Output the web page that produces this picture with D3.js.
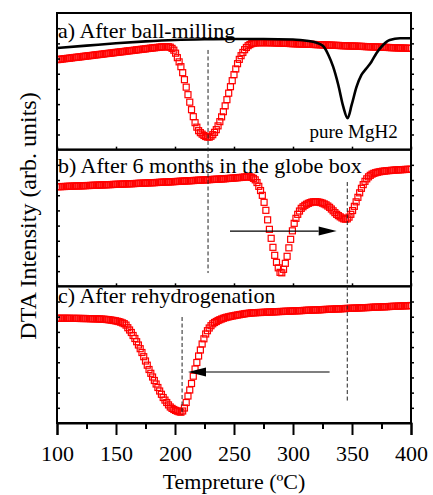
<!DOCTYPE html>
<html>
<head>
<meta charset="utf-8">
<script src="https://cdn.jsdelivr.net/npm/d3@7"></script>
<style>
  body { margin: 0; background: #fff; }
  svg { display: block; font-family: "Liberation Serif", "Times New Roman", serif; }
</style>
</head>
<body>
<div id="chart"></div>
<script>
// temperature grid of the DTA scans (every 1.5 degC)
const temps = d3.range(100, 401, 1.5);

// a) after ball-milling (red squares), arb. units
const ballMilled = [
  90.0, 90.2, 90.4, 90.7, 90.9, 91.1, 91.3, 91.5, 91.7, 92.0,
  92.2, 92.4, 92.6, 92.8, 93.0, 93.3, 93.5, 93.7, 93.9, 94.1,
  94.3, 94.6, 94.8, 95.0, 95.2, 95.4, 95.6, 95.9, 96.1, 96.3,
  96.5, 96.7, 96.9, 97.2, 97.4, 97.6, 97.8, 98.0, 98.2, 98.5,
  98.7, 98.9, 99.1, 99.3, 99.5, 99.8, 100.0, 100.2, 100.4, 100.6,
  100.8, 101.1, 101.3, 101.5, 101.7, 101.9, 102.1, 102.3, 102.5, 102.7,
  102.8, 102.9, 103.0, 102.9, 102.5, 101.3, 99.5, 96.5, 92, 87.8,
  83, 77, 70, 62.5, 55, 47.5, 40, 33, 27, 22.5,
  19, 17, 15.5, 14.2, 13.2, 12.6, 12.5, 13.4, 15, 17.3,
  20, 23.8, 28, 32.8, 38, 43.8, 50, 56.5, 63, 69,
  75, 80.7, 86, 90.3, 94, 97.2, 100, 102.2, 104, 105.1,
  106, 106.5, 106.8, 106.9, 107, 107, 107, 107, 107, 107,
  107, 106.9, 106.9, 106.8, 106.7, 106.6, 106.6, 106.5, 106.4, 106.3,
  106.3, 106.2, 106.1, 106.0, 106.0, 105.9, 105.8, 105.7, 105.7, 105.6,
  105.6, 105.5, 105.4, 105.3, 105.3, 105.2, 105.1, 105.0, 105.0, 104.9,
  104.8, 104.7, 104.7, 104.6, 104.6, 104.5, 104.4, 104.3, 104.3, 104.2,
  104.1, 104.0, 104.0, 103.9, 103.8, 103.7, 103.7, 103.6, 103.6, 103.5,
  103.4, 103.3, 103.3, 103.2, 103.1, 103.0, 103.0, 102.9, 102.8, 102.7,
  102.7, 102.6, 102.6, 102.5, 102.4, 102.3, 102.3, 102.2, 102.1, 102.0,
  102.0, 101.9, 101.8, 101.7, 101.7, 101.6, 101.6, 101.5, 101.4, 101.3,
  101.3
];

// b) after 6 months in the glove box
const gloveBox = [
  99.6, 99.7, 99.7, 99.8, 99.8, 99.9, 100.0, 100.1, 100.1, 100.2,
  100.3, 100.4, 100.4, 100.5, 100.5, 100.6, 100.7, 100.8, 100.8, 100.9,
  101.0, 101.1, 101.1, 101.2, 101.3, 101.4, 101.4, 101.5, 101.6, 101.7,
  101.7, 101.8, 101.9, 102.0, 102.0, 102.1, 102.2, 102.3, 102.3, 102.4,
  102.5, 102.6, 102.6, 102.7, 102.8, 102.9, 103.0, 103.1, 103.1, 103.2,
  103.3, 103.4, 103.5, 103.6, 103.6, 103.7, 103.8, 103.9, 104.0, 104.1,
  104.2, 104.3, 104.3, 104.4, 104.5, 104.6, 104.7, 104.8, 104.9, 105.0,
  105.1, 105.2, 105.3, 105.4, 105.5, 105.6, 105.7, 105.8, 105.9, 106.0,
  106.1, 106.2, 106.3, 106.4, 106.5, 106.6, 106.7, 106.8, 106.9, 107.0,
  107.1, 107.2, 107.3, 107.4, 107.5, 107.6, 107.8, 107.9, 108.0, 108.2,
  108.3, 108.5, 108.6, 108.8, 108.9, 109.1, 109.3, 109.5, 109.6, 109.5,
  109, 108, 106.5, 103.8, 100, 95.8, 91, 84, 76, 66.5,
  57, 48, 39, 31, 24, 18.5, 14, 13.5, 17, 23,
  30, 38.5, 47, 55.5, 63, 68, 72, 75.3, 78, 79.6,
  81, 82.1, 83, 83.7, 84.3, 84.5, 84.6, 84.5, 84.2, 83.8,
  83.2, 82.4, 81.5, 80.3, 79, 77.3, 75.5, 73.7, 72, 70.7,
  69.5, 68.4, 67.5, 67.2, 67.5, 69.2, 72, 75.8, 80, 84.5,
  89, 93.5, 98, 101.7, 105, 107.5, 109.5, 111, 112.2, 113,
  113.6, 114.1, 114.5, 114.8, 115.1, 115.3, 115.5, 115.7, 115.8, 116.0,
  116.1, 116.3, 116.4, 116.5, 116.6, 116.7, 116.8, 116.9, 117.0, 117.0,
  117.1
];

// c) after rehydrogenation
const rehydrided = [
  104.7, 104.7, 104.7, 104.7, 104.7, 104.7, 104.7, 104.7, 104.6, 104.6,
  104.6, 104.6, 104.6, 104.5, 104.5, 104.5, 104.5, 104.4, 104.4, 104.3,
  104.3, 104.2, 104.2, 104.1, 104.0, 103.9, 103.8, 103.7, 103.5, 103.3,
  103.1, 102.8, 102.5, 102.2, 101.8, 101.4, 100.8, 100.1, 99.3, 97.9,
  95.3, 93.0, 90.5, 87.5, 84.5, 81.3, 78, 74.3, 70.5, 66.3,
  62, 57.8, 53.5, 49.7, 46, 42.5, 39, 35.5, 32, 28.7,
  25.5, 22.9, 20.5, 18.1, 16, 14.6, 13.5, 12.6, 11.8, 11.2,
  10.8, 12, 15, 20.5, 27, 33, 39.5, 46.8, 54, 60.5,
  67, 73, 79, 84.2, 89, 92.3, 95, 97.3, 99.2, 100.5,
  101.5, 102.5, 103.3, 104.0, 104.7, 105.3, 105.8, 106.2, 106.6, 107.0,
  107.3, 107.7, 108.0, 108.3, 108.6, 108.9, 109.2, 109.5, 109.7, 109.9,
  110.1, 110.2, 110.3, 110.4, 110.5, 110.5, 110.6, 110.7, 110.8, 110.9,
  111.0, 111.0, 111.1, 111.2, 111.3, 111.4, 111.5, 111.5, 111.6, 111.7,
  111.8, 111.8, 111.9, 112.0, 112.1, 112.2, 112.3, 112.3, 112.4, 112.5,
  112.6, 112.7, 112.8, 112.8, 112.9, 113.0, 113.1, 113.1, 113.2, 113.3,
  113.4, 113.5, 113.6, 113.6, 113.7, 113.8, 113.9, 114.0, 114.1, 114.1,
  114.2, 114.3, 114.4, 114.5, 114.6, 114.6, 114.7, 114.8, 114.9, 114.9,
  115.0, 115.1, 115.2, 115.3, 115.4, 115.4, 115.5, 115.6, 115.7, 115.8,
  115.9, 115.9, 116.0, 116.1, 116.2, 116.2, 116.3, 116.4, 116.5, 116.6,
  116.7, 116.7, 116.8, 116.9, 117.0, 117.1, 117.2, 117.2, 117.3, 117.4,
  117.5
];

// pure MgH2 reference (black line in panel a)
const pureT = [100, 125, 150, 175, 200, 225, 250, 275, 300, 306, 317, 322, 326, 330, 334, 338.4,
  342.6, 346.3, 349.7, 353.9, 358, 362.3, 366.5, 370.7, 376.3, 382, 390.7, 400];
const pureV = [101.7, 104, 106.4, 108.3, 109.7, 110.4, 110.7, 110.7, 110.2, 109.7, 108, 106, 103, 94.7, 83, 64.7,
  43, 31.4, 44.7, 63, 74.7, 81.4, 88, 96.4, 104.7, 109.7, 111.4, 111.4];

const panelTitles = ["a) After ball-milling", "b) After 6 months in the globe box", "c) After rehydrogenation"];
const xTicks = [100, 150, 200, 250, 300, 350, 400];
const xMinorTicks = [125, 175, 225, 275, 325, 375];

// dashed peak markers: temperature, start [panel, value], end [panel, value]
const guideT = [228, 346, 206];
const guideFrom = [[0, 99.7], [1, 104.3], [2, 106]];
const guideTo = [[1, 13.3], [2, 21], [2, 8]];

// shift arrows: panel, start temp, end temp, level
const arrowPanel = [1, 2];
const arrowFrom = [246.6, 331];
const arrowTo = [337, 211];
const arrowLevel = [55.3, 51];

const W = 433, H = 495;
const margin = { top: 13, left: 57, right: 22, bottom: 72 };
const plotW = W - margin.left - margin.right;
const plotH = H - margin.top - margin.bottom;
const panelH = plotH / 3;

const svg = d3.select("#chart").append("svg")
  .attr("width", W)
  .attr("height", H);

const x = d3.scaleLinear().domain([100, 400]).range([margin.left, margin.left + plotW]);

const ys = [0, 1, 2].map(i => d3.scaleLinear()
  .domain([0, panelH])
  .range([margin.top + (i + 1) * panelH, margin.top + i * panelH]));

svg.append("defs").append("clipPath")
  .attr("id", "plot-clip")
  .append("rect")
  .attr("x", margin.left)
  .attr("y", 0)
  .attr("width", plotW)
  .attr("height", H);

const series = [ballMilled, gloveBox, rehydrided];
const yTickVals = d3.range(1, 9).map(k => k * panelH / 9);
const titleOffset = [25, 23, 17];

series.forEach((vals, i) => {
  const y = ys[i];
  const pts = temps.map((t, j) => [t, vals[j]]);

  svg.append("g")
    .attr("clip-path", "url(#plot-clip)")
    .selectAll("rect")
    .data(pts)
    .enter().append("rect")
    .attr("x", d => x(d[0]) - 3)
    .attr("y", d => y(d[1]) - 3)
    .attr("width", 6)
    .attr("height", 6)
    .attr("fill", "none")
    .attr("stroke", "#ff0000")
    .attr("stroke-width", 1.2);

  if (i === 0) {
    const line = d3.line()
      .x(d => x(d[0]))
      .y(d => y(d[1]))
      .curve(d3.curveMonotoneX);
    svg.append("path")
      .datum(pureT.map((t, j) => [t, pureV[j]]))
      .attr("d", line)
      .attr("fill", "none")
      .attr("stroke", "#000")
      .attr("stroke-width", 2.6);

    svg.append("text")
      .attr("x", x(314))
      .attr("y", y(11.7))
      .attr("font-size", 19)
      .text("pure MgH2");
  }

  // frame
  svg.append("rect")
    .attr("x", margin.left)
    .attr("y", y.range()[1])
    .attr("width", plotW)
    .attr("height", panelH)
    .attr("fill", "none")
    .attr("stroke", "#000")
    .attr("stroke-width", 2);

  // small y ticks (no labels)
  svg.append("g")
    .attr("class", "y-left")
    .attr("transform", "translate(" + margin.left + ",0)")
    .call(d3.axisLeft(y).tickValues(yTickVals).tickSize(-3).tickFormat(""));
  svg.append("g")
    .attr("class", "y-right")
    .attr("transform", "translate(" + (margin.left + plotW) + ",0)")
    .call(d3.axisRight(y).tickValues(yTickVals).tickSize(3).tickFormat(""));

  if (i < 2) {
    svg.append("g")
      .attr("class", "x-inner")
      .attr("transform", "translate(0," + y.range()[0] + ")")
      .call(d3.axisBottom(x).tickValues(xTicks).tickSize(-3).tickFormat(""));
  }

  svg.append("text")
    .attr("x", margin.left + 1)
    .attr("y", y.range()[1] + titleOffset[i])
    .attr("font-size", 22)
    .text(panelTitles[i]);
});

svg.selectAll(".y-left .domain, .y-right .domain, .x-inner .domain").remove();
svg.selectAll(".y-left line, .y-right line, .x-inner line").attr("stroke-width", 1.5);

// bottom axis
const bottomY = margin.top + plotH;
const xAxis = svg.append("g")
  .attr("transform", "translate(0," + bottomY + ")")
  .call(d3.axisBottom(x).tickValues(xTicks).tickSize(12).tickPadding(10).tickFormat(d3.format("d")));
xAxis.select(".domain").attr("stroke-width", 2);
xAxis.selectAll("line").attr("stroke-width", 2);
xAxis.selectAll("text")
  .attr("font-size", 22)
  .attr("font-family", "Liberation Serif, serif")
  .attr("fill", "#000");

const xMinor = svg.append("g")
  .attr("transform", "translate(0," + bottomY + ")")
  .call(d3.axisBottom(x).tickValues(xMinorTicks).tickSize(6).tickFormat(""));
xMinor.select(".domain").remove();
xMinor.selectAll("line").attr("stroke-width", 2);

// dashed guides
guideT.forEach((t, k) => {
  svg.append("line")
    .attr("x1", x(t))
    .attr("x2", x(t))
    .attr("y1", ys[guideFrom[k][0]](guideFrom[k][1]))
    .attr("y2", ys[guideTo[k][0]](guideTo[k][1]))
    .attr("stroke", "#222")
    .attr("stroke-width", 1)
    .attr("stroke-dasharray", "4,2.5");
});

// arrows
arrowPanel.forEach((p, k) => {
  const yy = ys[p](arrowLevel[k]);
  const x1 = x(arrowFrom[k]), x2 = x(arrowTo[k]);
  const dir = x2 > x1 ? 1 : -1;
  const headLen = 18, headHalf = 4.5;
  svg.append("line")
    .attr("x1", x1)
    .attr("x2", x2 - dir * headLen)
    .attr("y1", yy)
    .attr("y2", yy)
    .attr("stroke", k === 0 ? "#000" : "#555")
    .attr("stroke-width", k === 0 ? 1.2 : 1.6);
  svg.append("path")
    .attr("d", "M" + x2 + "," + yy +
      "L" + (x2 - dir * headLen) + "," + (yy - headHalf) +
      "L" + (x2 - dir * headLen) + "," + (yy + headHalf) + "Z")
    .attr("fill", "#000");
});

// axis titles
svg.append("text")
  .attr("x", 234)
  .attr("y", 489)
  .attr("text-anchor", "middle")
  .attr("font-size", 22)
  .text("Tempreture (ºC)");

svg.append("text")
  .attr("transform", "translate(36,216) rotate(-90)")
  .attr("text-anchor", "middle")
  .attr("font-size", 24)
  .text("DTA Intensity (arb. units)");
</script>
</body>
</html>
